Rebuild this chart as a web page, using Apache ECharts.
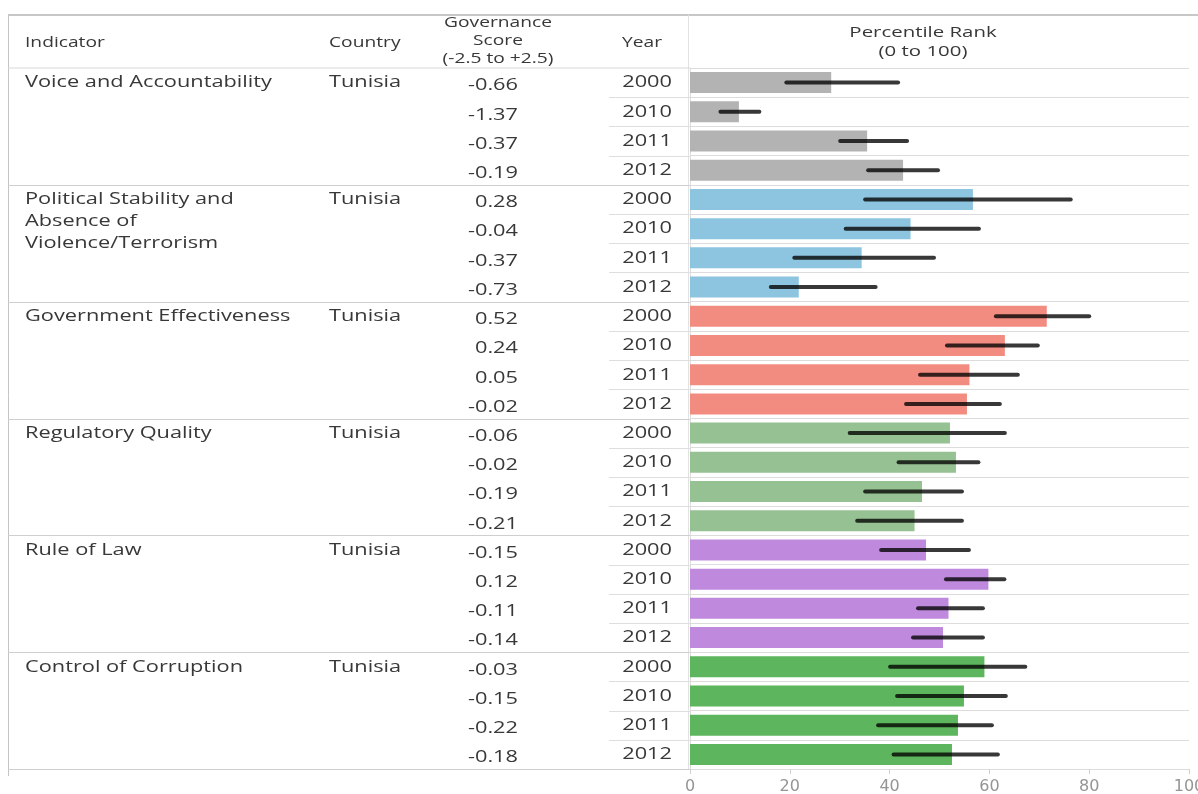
<!DOCTYPE html>
<html>
<head>
<meta charset="utf-8">
<script src="https://cdn.jsdelivr.net/npm/echarts@6/dist/echarts.min.js"></script>
<style>
  html, body { margin: 0; padding: 0; background: #ffffff; }
  #chart { width: 1198px; height: 794px; }
</style>
</head>
<body>
<div id="chart"></div>
<script>
// Worldwide Governance Indicators for Tunisia
const indicators = [
  'Voice and Accountability',
  'Political Stability and\nAbsence of\nViolence/Terrorism',
  'Government Effectiveness',
  'Regulatory Quality',
  'Rule of Law',
  'Control of Corruption'
];
const country = 'Tunisia';
const years = ['2000', '2010', '2011', '2012'];
const groupColors = ['#b3b3b3', '#8dc5e0', '#f28c80', '#96c293', '#bf8ade', '#5db55d'];

// Governance score (-2.5 to +2.5)
const scores = [
  [-0.66, -1.37, -0.37, -0.19],
  [0.28, -0.04, -0.37, -0.73],
  [0.52, 0.24, 0.05, -0.02],
  [-0.06, -0.02, -0.19, -0.21],
  [-0.15, 0.12, -0.11, -0.14],
  [-0.03, -0.15, -0.22, -0.18]
];
// Percentile rank (0 to 100)
const rank = [
  [28.3, 9.8, 35.5, 42.7],
  [56.7, 44.2, 34.4, 21.8],
  [71.5, 63.1, 56.0, 55.5],
  [52.1, 53.3, 46.5, 45.0],
  [47.3, 59.8, 51.8, 50.7],
  [59.0, 54.9, 53.7, 52.5]
];
// Margin of error: lower and upper bounds of the percentile rank
const rankLow = [
  [19.3, 6.1, 30.1, 35.7],
  [35.1, 31.2, 20.9, 16.2],
  [61.3, 51.5, 46.1, 43.3],
  [32.0, 41.8, 35.1, 33.5],
  [38.3, 51.3, 45.7, 44.7],
  [40.1, 41.5, 37.7, 40.8]
];
const rankHigh = [
  [41.7, 13.9, 43.5, 49.7],
  [76.3, 57.9, 48.9, 37.2],
  [80.0, 69.7, 65.7, 62.1],
  [63.1, 57.8, 54.5, 54.5],
  [55.9, 63.0, 58.7, 58.7],
  [67.2, 63.3, 60.5, 61.7]
];
const rankTicks = [0, 20, 40, 60, 80, 100];

// Flatten into one row per indicator/year
const rows = [];
indicators.forEach((name, g) => {
  years.forEach((yr, k) => {
    rows.push({ g, k, year: yr, score: scores[g][k], rank: rank[g][k], lo: rankLow[g][k], hi: rankHigh[g][k] });
  });
});
const rowIds = rows.map((r, i) => String(i));

const FONT = '"Open Sans", "Noto Sans", sans-serif';
const TEXT = '#383838';
const STRETCH = 1.28;   // wide table lettering
const chart = echarts.init(document.getElementById('chart'), null, { renderer: 'canvas' });

const GRID = { left: 690, right: 9, top: 68, bottom: 25, outerBoundsMode: 'none', containLabel: false };

chart.setOption({
  animation: false,
  backgroundColor: '#ffffff',
  grid: GRID,
  xAxis: {
    type: 'value',
    min: rankTicks[0],
    max: rankTicks[rankTicks.length - 1],
    interval: 20,
    axisLine: { show: false },
    axisTick: { show: true, length: 5, lineStyle: { color: '#d0d0d0' } },
    splitLine: { show: false },
    axisLabel: { color: '#959595', fontSize: 16, fontFamily: '"DejaVu Sans", sans-serif', margin: 10 }
  },
  yAxis: {
    type: 'category',
    data: rowIds,
    inverse: true,
    axisLine: { show: true, lineStyle: { color: '#dddddd' } },
    axisTick: { show: false },
    splitLine: { show: true, lineStyle: { color: '#dcdcdc', width: 1 } },
    axisLabel: { show: false }
  },
  series: [
    {
      type: 'bar',
      barWidth: 21,
      data: rows.map(r => ({ value: r.rank, itemStyle: { color: groupColors[r.g] } }))
    },
    {
      type: 'custom',
      data: rows.map((r, i) => [r.lo, r.hi, i]),
      encode: { x: [0, 1], y: 2 },
      z: 5,
      renderItem: (params, api) => {
        const a = api.coord([api.value(0), api.value(2)]);
        const b = api.coord([api.value(1), api.value(2)]);
        return {
          type: 'line',
          shape: { x1: a[0], y1: a[1], x2: b[0], y2: b[1] },
          style: { stroke: 'rgba(0,0,0,0.78)', lineWidth: 4, lineCap: 'round' }
        };
      }
    }
  ]
});

// Table columns, lines and headers placed from the category axis positions
function rowY(i) { return chart.convertToPixel({ yAxisIndex: 0 }, String(i)); }
const half = (rowY(1) - rowY(0)) / 2;
const topY = GRID.top;
const bottomY = 794 - GRID.bottom;
const rightX = 1198;
const g = [];

function txt(x, y, text, size, align, vAlign, lineHeight) {
  const style = { text, fill: TEXT, font: size + 'px ' + FONT, align, verticalAlign: vAlign };
  if (lineHeight) style.lineHeight = lineHeight;
  return { type: 'text', x, y, scaleX: STRETCH, style };
}

// outer frame and header rule
g.push({ type: 'line', shape: { x1: 8, y1: 15, x2: rightX, y2: 15 }, style: { stroke: '#b5b5b5', lineWidth: 1.5 } });
g.push({ type: 'line', shape: { x1: 8.5, y1: 15, x2: 8.5, y2: 776 }, style: { stroke: '#c4c4c4', lineWidth: 1 } });
g.push({ type: 'line', shape: { x1: 688.5, y1: 15, x2: 688.5, y2: bottomY }, style: { stroke: '#e2e2e2', lineWidth: 1 } });
g.push({ type: 'line', shape: { x1: 8, y1: topY, x2: 690, y2: topY }, style: { stroke: '#d8d8d8', lineWidth: 1 } });

rows.forEach((r, i) => {
  const cy = rowY(i);
  const yEdge = Math.round(cy + half) + 0.5;
  if (r.k === years.length - 1) {
    g.push({ type: 'line', shape: { x1: 8, y1: yEdge, x2: 690, y2: yEdge }, style: { stroke: '#cfcfcf', lineWidth: 1 } });
  } else {
    g.push({ type: 'line', shape: { x1: 609, y1: yEdge, x2: 690, y2: yEdge }, style: { stroke: '#dedede', lineWidth: 1 } });
  }
  // year, right aligned against the bar pane
  g.push(txt(672, cy, r.year, 17, 'right', 'middle'));
  // governance score, right aligned
  g.push(txt(518, cy + 3, r.score.toFixed(2), 17, 'right', 'middle'));
  if (r.k === 0) {
    g.push(txt(25, cy - 11, indicators[r.g], 17, 'left', 'top', 22));
    g.push(txt(329, cy - 11, country, 17, 'left', 'top', 22));
  }
});

// headers
const h5 = txt(923, 42, 'Percentile Rank\n(0 to 100)', 15, 'center', 'middle', 19);
h5.scaleX = 1.36;
g.push(
  txt(25, 43, 'Indicator', 15, 'left', 'middle'),
  txt(329, 43, 'Country', 15, 'left', 'middle'),
  txt(498, 41, 'Governance\nScore\n(-2.5 to +2.5)', 15, 'center', 'middle', 18),
  txt(662, 43, 'Year', 15, 'right', 'middle'),
  h5
);

chart.setOption({ graphic: { elements: g } });
</script>
</body>
</html>
